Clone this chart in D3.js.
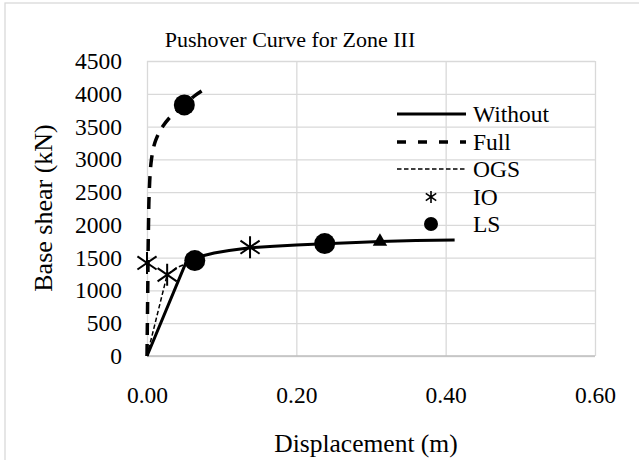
<!DOCTYPE html>
<html>
<head>
<meta charset="utf-8">
<script src="https://cdn.jsdelivr.net/npm/d3@7"></script>
<style>
  body { margin: 0; background: #fff; }
  svg text { font-family: "Liberation Serif", "Times New Roman", serif; fill: #000; }
</style>
</head>
<body>
<svg width="639" height="460"></svg>
<script>
// pushover curves, displacement (m) vs base shear (kN)
const withoutX = [0, 0.052, 0.058, 0.065, 0.075, 0.09, 0.11, 0.138, 0.17, 0.2, 0.238, 0.28, 0.312, 0.36, 0.412];
const withoutY = [0, 1420, 1465, 1495, 1530, 1570, 1610, 1650, 1675, 1692, 1712, 1732, 1745, 1760, 1770];
const fullX = [0, 0.001, 0.002, 0.003, 0.006, 0.012, 0.021, 0.035, 0.05, 0.065, 0.081];
const fullY = [0, 1000, 2000, 2500, 3000, 3300, 3500, 3690, 3830, 3980, 4100];
const ogsX = [0, 0.027, 0.04, 0.055, 0.065];
const ogsY = [0, 1240, 1350, 1420, 1455];

// performance points
const ioX = [0.0, 0.027, 0.138];
const ioY = [1420, 1240, 1660];
const lsX = [0.05, 0.064, 0.238];
const lsY = [3830, 1455, 1715];
const cpX = [0.312];
const cpY = [1747];

const xTicks = [0, 0.2, 0.4, 0.6];
const yTicks = [0, 500, 1000, 1500, 2000, 2500, 3000, 3500, 4000, 4500];
const legendNames = ['Without', 'Full', 'OGS', 'IO', 'LS'];

const zip = (xs, ys) => xs.map((x, i) => ({x: x, y: ys[i]}));
const serif = '"Liberation Serif", "Times New Roman", serif';

const svg = d3.select('svg');

// outer chart border (cut off on right/bottom)
svg.append('rect')
  .attr('x', 5).attr('y', 3)
  .attr('width', 700).attr('height', 500)
  .attr('fill', '#fff')
  .attr('stroke', '#d9d9d9')
  .attr('stroke-width', 1.3);

const xScale = d3.scaleLinear().domain([0, 0.6]).range([147, 595]);
const yScale = d3.scaleLinear().domain([0, 4500]).range([356, 61]);

// gridlines
svg.append('g')
  .attr('transform', 'translate(0, 356)')
  .call(d3.axisBottom(xScale).tickValues(xTicks).tickSize(-295).tickFormat(''))
  .call(g => g.select('.domain').remove())
  .call(g => g.selectAll('line').attr('stroke', '#d9d9d9').attr('stroke-width', 1.3));

svg.append('g')
  .attr('transform', 'translate(147, 0)')
  .call(d3.axisLeft(yScale).tickValues(yTicks).tickSize(-448).tickFormat(''))
  .call(g => g.select('.domain').remove())
  .call(g => g.selectAll('line').attr('stroke', '#d9d9d9').attr('stroke-width', 1.3));

// bottom axis line
svg.append('line')
  .attr('x1', 147).attr('x2', 595)
  .attr('y1', 356).attr('y2', 356)
  .attr('stroke', '#bfbfbf').attr('stroke-width', 1.3);

// tick labels
svg.append('g')
  .attr('transform', 'translate(0, 356)')
  .call(d3.axisBottom(xScale).tickValues(xTicks).tickSize(0).tickPadding(30).tickFormat(d3.format('.2f')))
  .attr('font-family', serif).attr('font-size', 23.5)
  .call(g => g.select('.domain').remove());

svg.append('g')
  .attr('transform', 'translate(147, 0)')
  .call(d3.axisLeft(yScale).tickValues(yTicks).tickSize(0).tickPadding(25).tickFormat(d3.format('d')))
  .attr('font-family', serif).attr('font-size', 23.5)
  .call(g => g.select('.domain').remove());

// titles
svg.append('text')
  .attr('x', 290).attr('y', 47)
  .attr('text-anchor', 'middle')
  .attr('font-size', 22)
  .text('Pushover Curve for Zone III');

svg.append('text')
  .attr('x', 366).attr('y', 452)
  .attr('text-anchor', 'middle')
  .attr('font-size', 25.5)
  .text('Displacement (m)');

svg.append('text')
  .attr('transform', 'translate(52, 208) rotate(-90)')
  .attr('text-anchor', 'middle')
  .attr('font-size', 26)
  .text('Base shear (kN)');

// curves
const line = d3.line().x(d => xScale(d.x)).y(d => yScale(d.y));

svg.append('path')
  .datum(zip(ogsX, ogsY))
  .attr('d', line)
  .attr('fill', 'none').attr('stroke', '#000')
  .attr('stroke-width', 1.5).attr('stroke-dasharray', '4.5,2.5');

svg.append('path')
  .datum(zip(fullX, fullY))
  .attr('d', d3.line().x(d => xScale(d.x)).y(d => yScale(d.y)).curve(d3.curveMonotoneY))
  .attr('fill', 'none').attr('stroke', '#000')
  .attr('stroke-width', 3.5).attr('stroke-dasharray', '12,9');

svg.append('path')
  .datum(zip(withoutX, withoutY))
  .attr('d', line)
  .attr('fill', 'none').attr('stroke', '#000')
  .attr('stroke-width', 3).attr('stroke-linejoin', 'round');

// markers
const starPath = (r) => `M0,${-r}V${r}M${-r * 0.87},${-r * 0.6}L${r * 0.87},${r * 0.6}M${-r * 0.87},${r * 0.6}L${r * 0.87},${-r * 0.6}`;

svg.append('g').selectAll('path')
  .data(zip(ioX, ioY))
  .enter().append('path')
  .attr('transform', d => `translate(${xScale(d.x)}, ${yScale(d.y)})`)
  .attr('d', starPath(11))
  .attr('stroke', '#000').attr('stroke-width', 2).attr('fill', 'none');

svg.append('g').selectAll('circle')
  .data(zip(lsX, lsY))
  .enter().append('circle')
  .attr('cx', d => xScale(d.x))
  .attr('cy', d => yScale(d.y))
  .attr('r', 10.5)
  .attr('fill', '#000');

svg.append('g').selectAll('path')
  .data(zip(cpX, cpY))
  .enter().append('path')
  .attr('transform', d => `translate(${xScale(d.x)}, ${yScale(d.y)})`)
  .attr('d', d3.symbol(d3.symbolTriangle, 90))
  .attr('fill', '#000');

// legend
const legend = svg.append('g').attr('transform', 'translate(397, 0)');
const rowY = [114, 142, 169, 197, 224];

legend.selectAll('text')
  .data(legendNames)
  .enter().append('text')
  .attr('x', 76)
  .attr('y', (d, i) => rowY[i] + 7.5)
  .attr('font-size', 23.5)
  .text(d => d);

legend.append('line').attr('x1', 0).attr('x2', 69).attr('y1', rowY[0]).attr('y2', rowY[0])
  .attr('stroke', '#000').attr('stroke-width', 3);
legend.append('line').attr('x1', 0).attr('x2', 69).attr('y1', rowY[1]).attr('y2', rowY[1])
  .attr('stroke', '#000').attr('stroke-width', 3.5).attr('stroke-dasharray', '9,12');
legend.append('line').attr('x1', 0).attr('x2', 69).attr('y1', rowY[2]).attr('y2', rowY[2])
  .attr('stroke', '#000').attr('stroke-width', 1.5).attr('stroke-dasharray', '4.5,2.5');
legend.append('path')
  .attr('transform', `translate(34, ${rowY[3]})`)
  .attr('d', starPath(6))
  .attr('stroke', '#000').attr('stroke-width', 1.6).attr('fill', 'none');
legend.append('circle')
  .attr('cx', 34).attr('cy', rowY[4]).attr('r', 7)
  .attr('fill', '#000');
</script>
</body>
</html>
